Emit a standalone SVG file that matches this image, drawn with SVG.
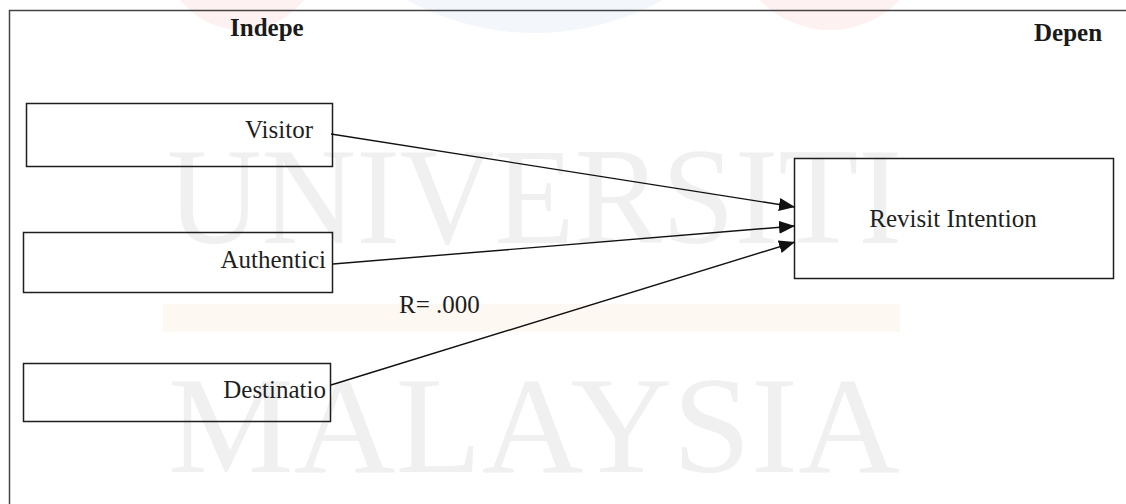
<svg xmlns="http://www.w3.org/2000/svg" width="1126" height="504" viewBox="0 0 1126 504">
  <defs>
    <style>
      .box { fill: none; stroke: #1e1e1e; stroke-width: 1.5; }
      .lbl { font-family: 'Liberation Serif', 'DejaVu Serif', serif; font-size: 25px; fill: #1e1e1e; }
      .hdr { font-family: 'Liberation Serif', 'DejaVu Serif', serif; font-size: 25px; font-weight: bold; fill: #1a1a1a; }
      .wm { font-family: 'Liberation Serif', 'DejaVu Serif', serif; font-size: 138px; fill: #f0f0f0; }
      .conn { stroke: #111; stroke-width: 1.4; fill: none; }
    </style>
    <marker id="arrow" markerUnits="userSpaceOnUse" markerWidth="17" markerHeight="13" refX="16" refY="6.5" orient="auto">
      <path d="M0,0 L16,6.5 L0,13 z" fill="#111"/>
    </marker>
  </defs>

  <rect x="0" y="0" width="1126" height="504" fill="#ffffff"/>

  <g id="background">
    <circle cx="242" cy="-49" r="79" fill="#fef1f1"/>
    <circle cx="535" cy="-232" r="265" fill="#f3f7fc"/>
    <circle cx="830" cy="-67" r="97" fill="#fef1f1"/>
    <rect x="163" y="304" width="737" height="28" fill="#fef8f2"/>
    <text class="wm" font-family="Liberation Serif, serif" x="167" y="243" textLength="735" lengthAdjust="spacingAndGlyphs">UNIVERSITI</text>
    <text class="wm" font-family="Liberation Serif, serif" x="168" y="472" textLength="732" lengthAdjust="spacingAndGlyphs">MALAYSIA</text>
  </g>

  <path id="frame" d="M9.5,504 V10.5 H1126" fill="none" stroke="#444" stroke-width="1.5"/>

  <text id="hdr-indep" class="hdr" font-family="Liberation Serif, serif" x="230" y="36">Indepe</text>
  <text id="hdr-dep" class="hdr" font-family="Liberation Serif, serif" x="1034" y="41">Depen</text>

  <g id="node-visitor">
    <rect class="box" x="26.5" y="103.5" width="306" height="63"/>
    <text class="lbl" font-family="Liberation Serif, serif" x="313" y="138" text-anchor="end">Visitor</text>
  </g>
  <g id="node-authenticity">
    <rect class="box" x="23.5" y="232.5" width="309" height="60"/>
    <text class="lbl" font-family="Liberation Serif, serif" x="326" y="268" text-anchor="end">Authentici</text>
  </g>
  <g id="node-destination">
    <rect class="box" x="23.5" y="363.5" width="307" height="58"/>
    <text class="lbl" font-family="Liberation Serif, serif" x="326" y="398" text-anchor="end">Destinatio</text>
  </g>
  <g id="node-revisit">
    <rect class="box" x="794.5" y="158.5" width="319" height="120"/>
    <text class="lbl" font-family="Liberation Serif, serif" x="953" y="227" text-anchor="middle">Revisit Intention</text>
  </g>

  <g id="connectors">
    <line class="conn" x1="331" y1="134" x2="795" y2="207" marker-end="url(#arrow)"/>
    <line class="conn" x1="333" y1="264" x2="795" y2="226" marker-end="url(#arrow)"/>
    <line class="conn" x1="331" y1="385" x2="795" y2="242" marker-end="url(#arrow)"/>
  </g>

  <text id="r-label" class="lbl" font-family="Liberation Serif, serif" x="399" y="313">R= .000</text>
</svg>
